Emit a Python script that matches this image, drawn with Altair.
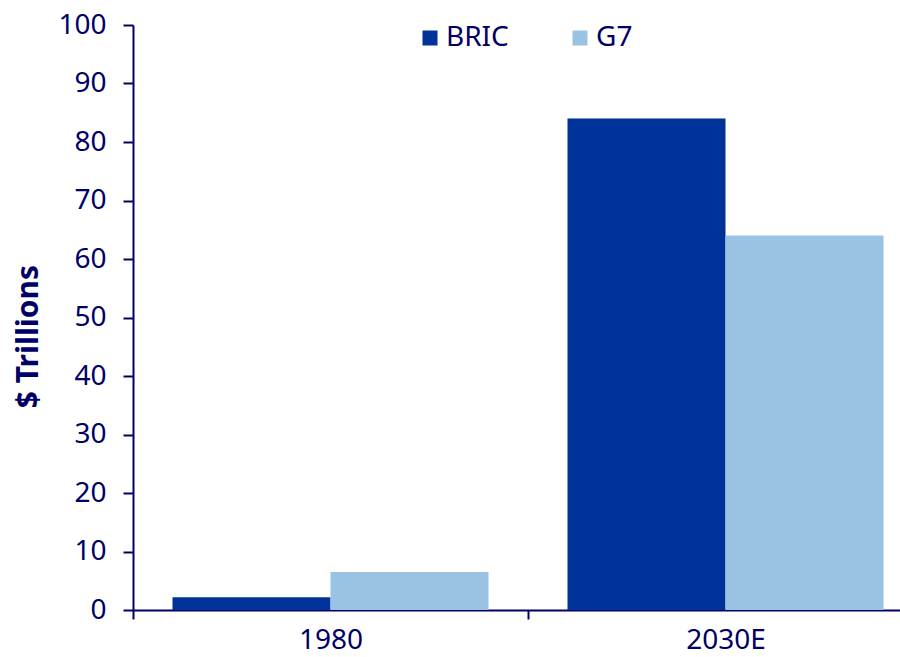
import altair as alt
import pandas as pd

years = ["1980", "2030E"]
series = ["BRIC", "G7"]
bric = [2.2, 84.0]
g7 = [6.5, 64.0]

rows = []
for i, y in enumerate(years):
    rows.append({"year": y, "group": "BRIC", "value": bric[i]})
    rows.append({"year": y, "group": "G7", "value": g7[i]})
df = pd.DataFrame(rows)

NAVY = "#000066"
FONT = "Noto Sans"

chart = alt.Chart(df).mark_bar().encode(
    x=alt.X("year:N", sort=years, title=None,
            scale=alt.Scale(range=[0, 790], paddingInner=0, paddingOuter=0),
            axis=alt.Axis(labelAngle=0, tickBand="extent", tickSize=9, labelPadding=7,
                          labelFontSize=28, labelFont=FONT, labelColor=NAVY,
                          domainColor=NAVY, tickColor=NAVY, domainWidth=2, tickWidth=2)),
    xOffset=alt.XOffset("group:N", sort=series,
                        scale=alt.Scale(paddingInner=0, paddingOuter=0.25)),
    y=alt.Y("value:Q", title="$ Trillions",
            scale=alt.Scale(domain=[0, 100]),
            axis=alt.Axis(values=list(range(0, 101, 10)), grid=False, tickSize=10,
                          labelPadding=17, labelFontSize=28, labelFont=FONT, labelColor=NAVY,
                          titleFont=FONT, titleFontSize=30, titleFontWeight="bold",
                          titleColor=NAVY, titleX=-90, titleY=311,
                          domainColor=NAVY, tickColor=NAVY, domainWidth=2, tickWidth=2)),
    color=alt.Color("group:N", sort=series, title=None,
                    scale=alt.Scale(domain=series, range=["#003399", "#99C2E3"]),
                    legend=alt.Legend(orient="none", legendX=416 - 133, legendY=-1,
                                      direction="horizontal", symbolType="square",
                                      symbolSize=225, symbolStrokeWidth=0, symbolOpacity=1,
                                      labelFont=FONT, labelFontSize=28, labelColor=NAVY,
                                      columnPadding=57, labelOffset=2)),
).properties(
    width=767, height=585,
    autosize=alt.AutoSizeParams(type="none"),
    padding={"left": 133, "top": 25, "right": 0, "bottom": 47},
).configure_view(stroke=None)

chart.save("out.html", embed_options={"renderer": "svg", "actions": False})
